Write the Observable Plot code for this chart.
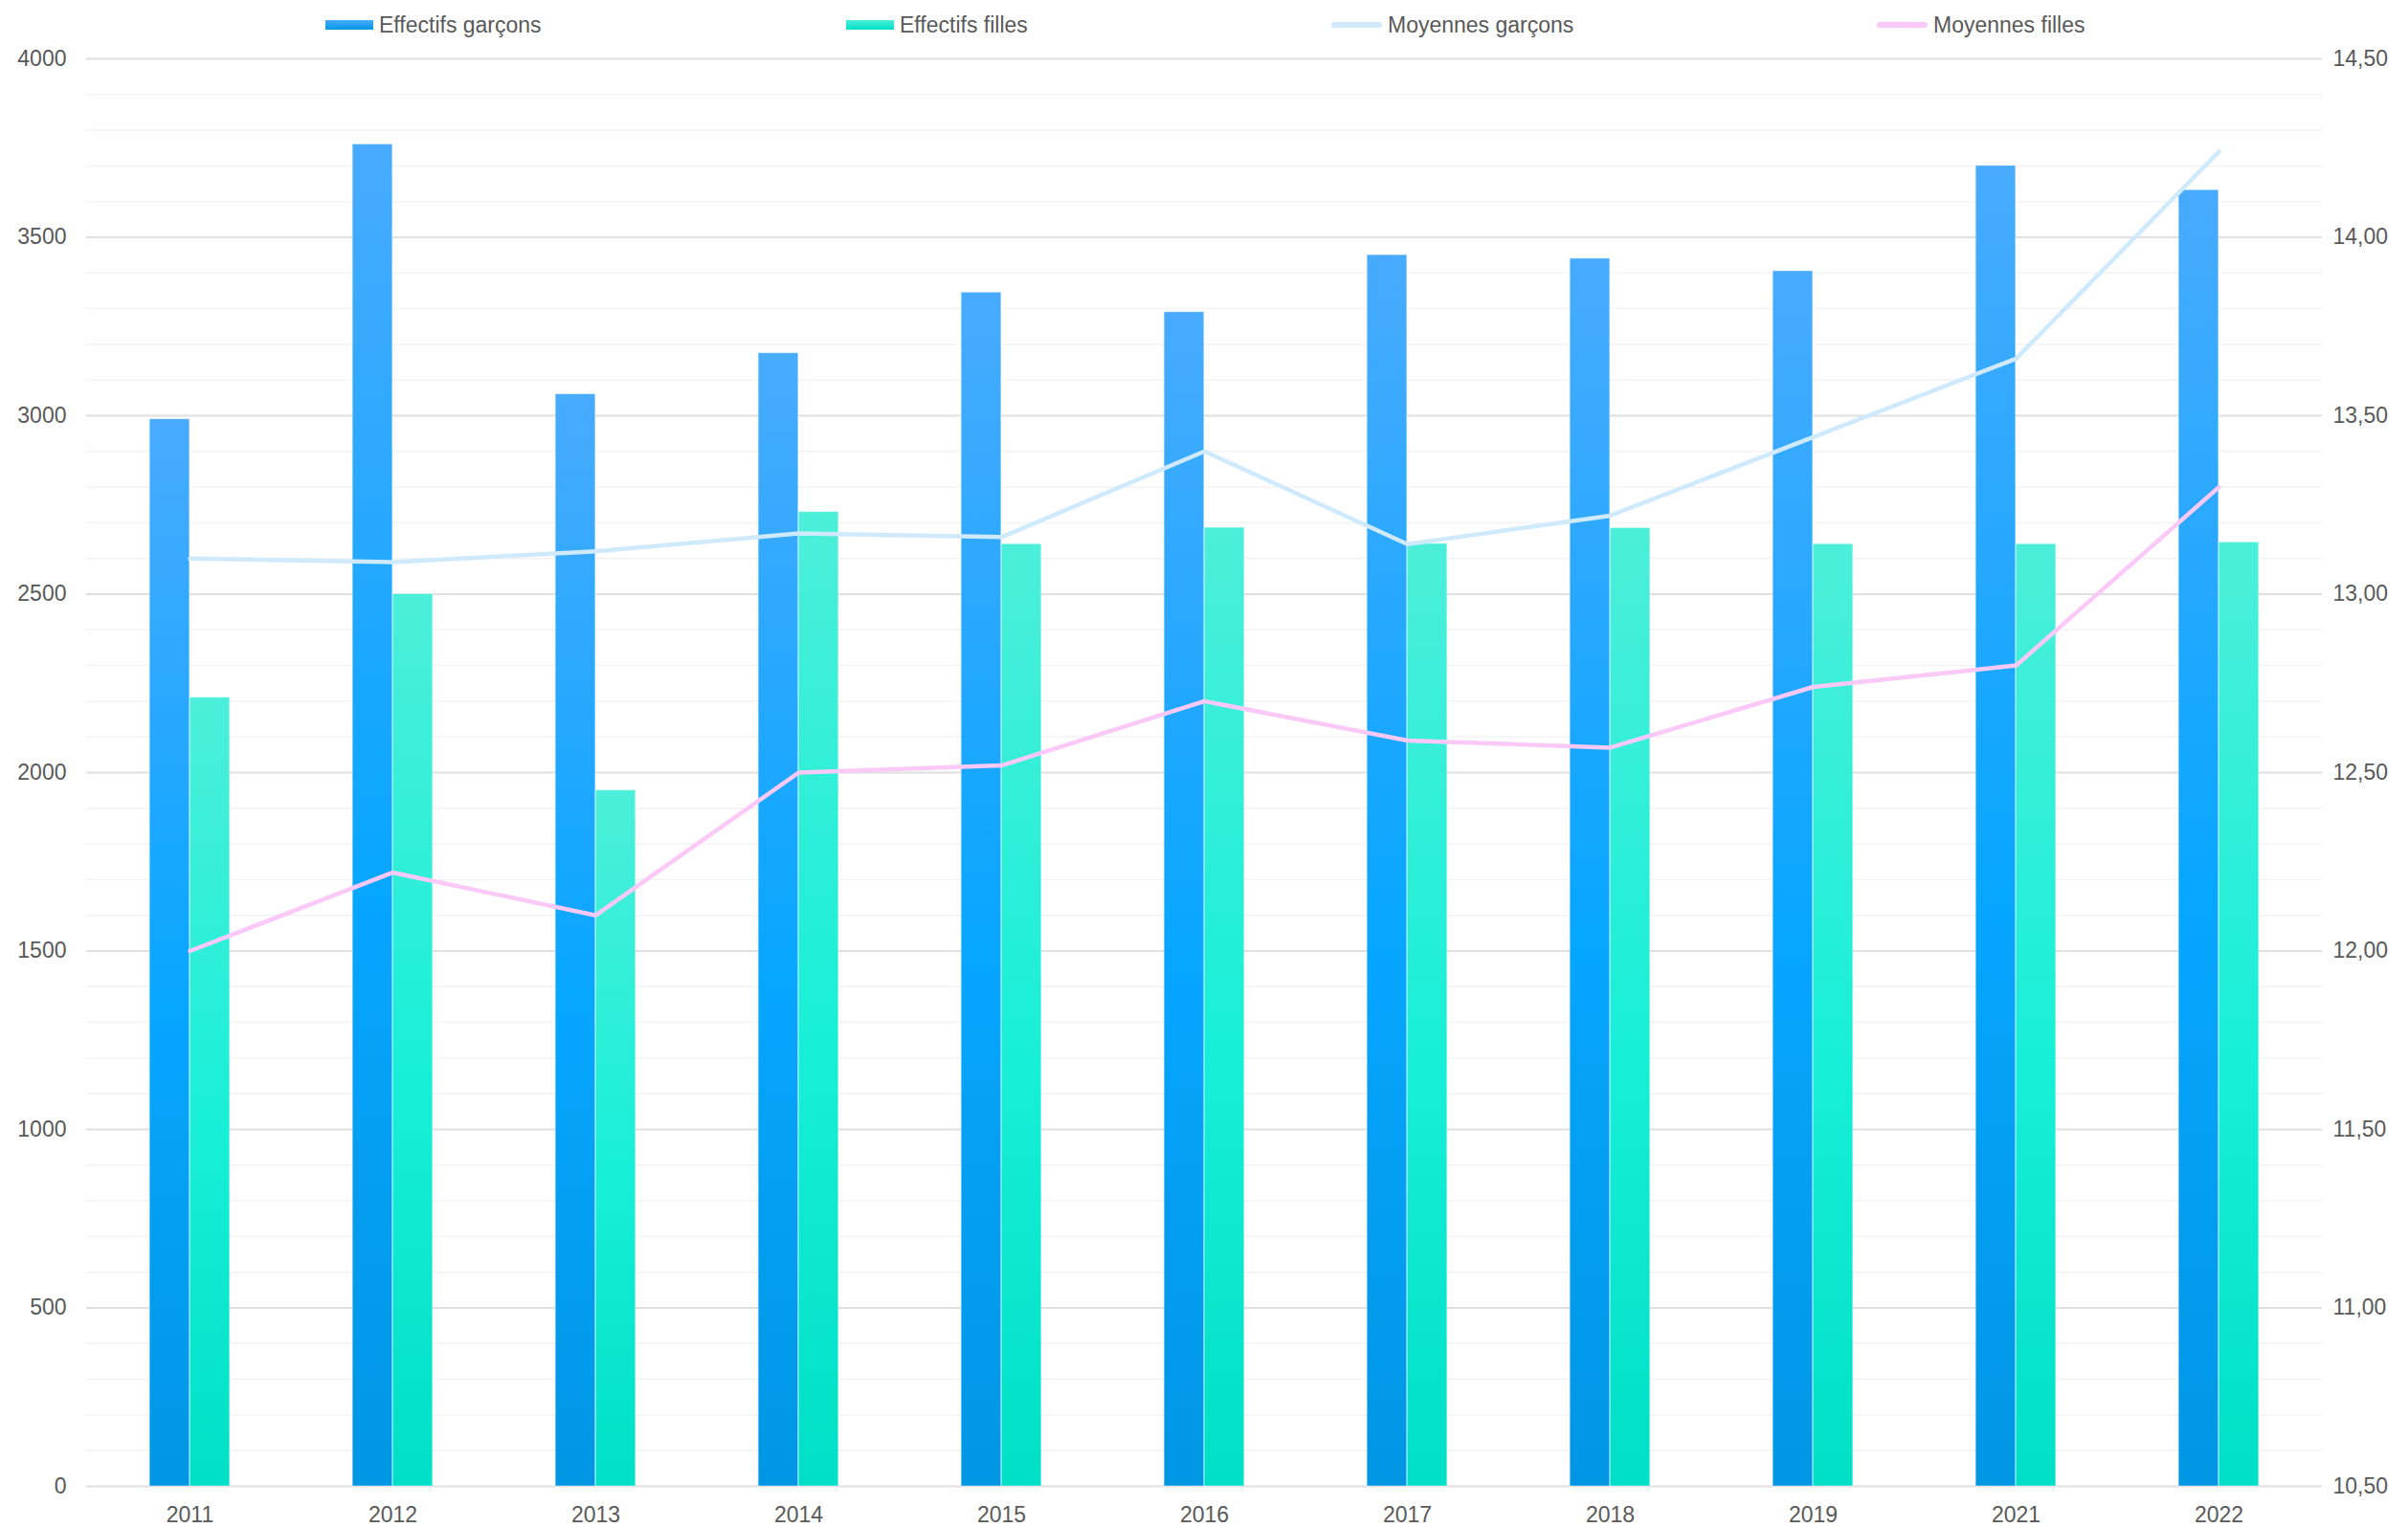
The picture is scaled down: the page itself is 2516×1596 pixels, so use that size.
<!DOCTYPE html>
<html>
<head>
<meta charset="utf-8">
<script src="https://cdn.jsdelivr.net/npm/d3@7"></script>
<script src="https://cdn.jsdelivr.net/npm/@observablehq/plot@0.6"></script>
<style>
  html, body { margin: 0; padding: 0; background: #fff; }
  body { width: 2516px; height: 1596px; overflow: hidden; font-family: "Liberation Sans", Arial, sans-serif; }
  #legend { position: relative; height: 48px; width: 2516px; }
  .item { position: absolute; top: 2px; height: 48px; display: flex; align-items: center; font-size: 23px; color: #595959; }
  .sw { margin-right: 6px; }
  #chart svg { display: block; }
</style>
</head>
<body>
<div id="legend"></div>
<div id="chart"></div>
<script>
// ---- data ----
const years = ["2011","2012","2013","2014","2015","2016","2017","2018","2019","2021","2022"];
const effectifsGarcons = [2990, 3760, 3060, 3175, 3345, 3290, 3450, 3440, 3405, 3700, 3632];
const effectifsFilles  = [2210, 2500, 1950, 2730, 2640, 2686, 2641, 2685, 2640, 2640, 2645];
const moyennesGarcons  = [13.10, 13.09, 13.12, 13.17, 13.16, 13.40, 13.14, 13.22, 13.44, 13.66, 14.24];
const moyennesFilles   = [12.00, 12.22, 12.10, 12.50, 12.52, 12.70, 12.59, 12.57, 12.74, 12.80, 13.30];
const leftTicks  = [0, 500, 1000, 1500, 2000, 2500, 3000, 3500, 4000];
const rightMin = 10.5, rightMax = 14.5;
const seriesNames = ["Effectifs garçons", "Effectifs filles", "Moyennes garçons", "Moyennes filles"];

// ---- styles ----
const colBlueTop = "#48abfd", colBlueMid = "#07a6ff", colBlueBot = "#0096e4";
const colGreenTop = "#4cefd9", colGreenMid = "#18efd8", colGreenBot = "#00dfc7";
const colLineG = "#cfeafc", colLineF = "#fbc9f8";

// ---- legend ----
const legend = document.getElementById("legend");
const legendItems = [
  {name: seriesNames[0], x: 340, kind: "bar", bg: `linear-gradient(${colBlueTop}, ${colBlueBot})`},
  {name: seriesNames[1], x: 884, kind: "bar", bg: `linear-gradient(${colGreenTop}, ${colGreenBot})`},
  {name: seriesNames[2], x: 1391, kind: "line", bg: colLineG},
  {name: seriesNames[3], x: 1961, kind: "line", bg: colLineF}
];
for (const it of legendItems) {
  const d = document.createElement("div");
  d.className = "item";
  d.style.left = it.x + "px";
  const sw = document.createElement("span");
  sw.className = "sw";
  sw.style.display = "inline-block";
  if (it.kind === "bar") { sw.style.width = "50px"; sw.style.height = "10px"; }
  else { sw.style.width = "53px"; sw.style.height = "6px"; sw.style.borderRadius = "3px"; }
  sw.style.background = it.bg;
  d.appendChild(sw);
  d.appendChild(document.createTextNode(it.name));
  legend.appendChild(d);
}

// ---- chart ----
const rows = years.map((y, i) => ({
  year: y,
  garcons: effectifsGarcons[i],
  filles: effectifsFilles[i],
  mg: moyennesGarcons[i],
  mf: moyennesFilles[i]
}));
const toLeft = v => (v - rightMin) * (4000 / (rightMax - rightMin));
const fromLeft = t => rightMin + t * (rightMax - rightMin) / 4000;
const minorTicks = d3.range(0, 4001, 100).filter(t => t % 500 !== 0);

const W = 2516, H = 1548, mL = 90, mR = 90;
const bw = (W - mL - mR) / years.length;
const barW = 42;

function defs() {
  const g = d3.create("svg:defs");
  const mk = (id, a, b, c) => {
    const lg = g.append("linearGradient").attr("id", id).attr("x1", 0).attr("y1", 0).attr("x2", 0).attr("y2", 1);
    lg.append("stop").attr("offset", "0%").attr("stop-color", a);
    lg.append("stop").attr("offset", "55%").attr("stop-color", b);
    lg.append("stop").attr("offset", "100%").attr("stop-color", c);
  };
  mk("gBlue", colBlueTop, colBlueMid, colBlueBot);
  mk("gGreen", colGreenTop, colGreenMid, colGreenBot);
  return g.node();
}

const chart = Plot.plot({
  width: W, height: H,
  marginLeft: mL, marginRight: mR, marginTop: 13, marginBottom: 43,
  x: {domain: years, type: "band", padding: 0, label: null},
  y: {domain: [0, 4000], label: null},
  style: {fontFamily: "'Liberation Sans', Arial, sans-serif", fontSize: "23px", color: "#595959", background: "#fff", overflow: "visible"},
  marks: [
    defs,
    Plot.ruleY(minorTicks, {stroke: "#f3f3f3", strokeWidth: 1.5}),
    Plot.ruleY(leftTicks, {stroke: "#e0e0e0", strokeWidth: 2}),
    Plot.barY(rows, {x: "year", y: "garcons", fill: "url(#gBlue)", stroke: "#ffffff", strokeOpacity: 0.4, strokeWidth: 1,
      insetLeft: bw / 2 - barW, insetRight: bw / 2}),
    Plot.barY(rows, {x: "year", y: "filles", fill: "url(#gGreen)", stroke: "#ffffff", strokeOpacity: 0.4, strokeWidth: 1,
      insetLeft: bw / 2, insetRight: bw / 2 - barW}),
    Plot.lineY(rows, {x: "year", y: d => toLeft(d.mg), stroke: colLineG, strokeWidth: 4.5, strokeLinecap: "round", strokeLinejoin: "round"}),
    Plot.lineY(rows, {x: "year", y: d => toLeft(d.mf), stroke: colLineF, strokeWidth: 4.5, strokeLinecap: "round", strokeLinejoin: "round"}),
    Plot.axisY(leftTicks, {anchor: "left", tickSize: 0, tickPadding: 21, label: null, fill: "#595959", tickFormat: t => String(t)}),
    Plot.axisY(leftTicks, {anchor: "right", tickSize: 0, tickPadding: 11, label: null, fill: "#595959",
      tickFormat: t => fromLeft(t).toFixed(2).replace(".", ",")}),
    Plot.axisX({tickSize: 0, tickPadding: 21, label: null, fill: "#595959"})
  ]
});
document.getElementById("chart").appendChild(chart);
</script>
</body>
</html>
